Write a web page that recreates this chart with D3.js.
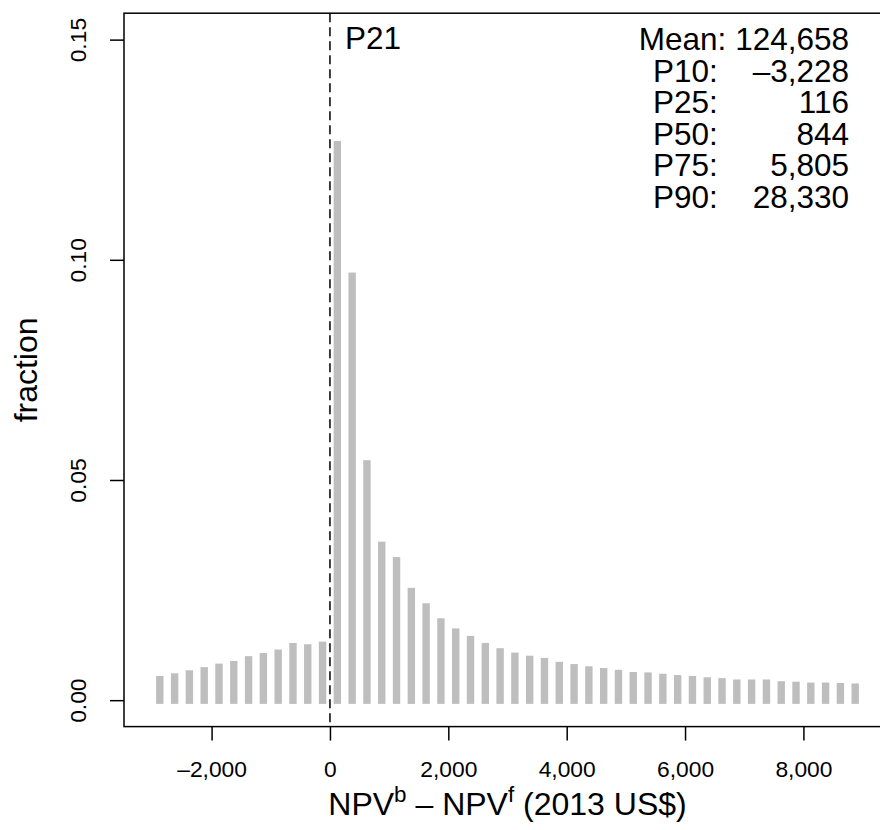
<!DOCTYPE html>
<html>
<head>
<meta charset="utf-8">
<script src="https://cdn.jsdelivr.net/npm/d3@7"></script>
<style>
  body { margin: 0; background: #fff; }
  svg text { font-family: "Liberation Sans", Arial, Helvetica, sans-serif; fill: #000; }
</style>
</head>
<body>
<div id="vis"></div>
<script>
// histogram bins (250 wide) from -3000 to 9000
const binWidth = 250;
const binStarts = d3.range(-3000, 9000, binWidth);

// fraction per bin
const fractions = [
  0.0055, 0.0061, 0.0068, 0.0075, 0.0083, 0.0089, 0.0100, 0.0107, 0.0115, 0.0130, 0.0127, 0.0133,
  0.1270, 0.0971, 0.0545, 0.0360, 0.0325, 0.0255, 0.0220, 0.0186, 0.0163, 0.0146, 0.0130, 0.0118,
  0.0108, 0.0101, 0.0096, 0.0087, 0.0082, 0.0077, 0.0073, 0.0069, 0.0064, 0.0063, 0.0060, 0.0057,
  0.0055, 0.0052, 0.0050, 0.0047, 0.0047, 0.0047, 0.0043, 0.0042, 0.0040, 0.0040, 0.0039, 0.0038
];

const xTicks = [-2000, 0, 2000, 4000, 6000, 8000];
const yTicks = [0, 0.05, 0.10, 0.15];

const statLabels = ["P10:", "P25:", "P50:", "P75:", "P90:"];
const statValues = [-3228, 116, 844, 5805, 28330];
const meanValue = 124658;
const tagLabel = "P21";

const width = 880;
const height = 830;
const plot = { left: 124, right: 891, top: 13.2, bottom: 726.6 };

// R style axis extension of 4%
const xlim = [-3000, 9000];
const ylim = [0, 0.15];
const xPad = (xlim[1] - xlim[0]) * 0.04;
const yPad = (ylim[1] - ylim[0]) * 0.04;

const x = d3.scaleLinear()
  .domain([xlim[0] - xPad, xlim[1] + xPad])
  .range([plot.left, plot.right]);
const y = d3.scaleLinear()
  .domain([ylim[0] - yPad, ylim[1] + yPad])
  .range([plot.bottom, plot.top]);

// numbers with commas and a real minus sign
const fmt = v => (v < 0 ? "\u2013" : "") + d3.format(",")(Math.abs(v));

const svg = d3.select("#vis")
  .append("svg")
  .attr("width", width)
  .attr("height", height);

// bars: drawn like thick lines with square ends
const barW = x(binWidth / 2) - x(0);
const cap = barW / 2;
svg.append("g")
  .selectAll("rect")
  .data(binStarts.map((s, i) => ({ mid: s + binWidth / 2, v: fractions[i] })))
  .enter()
  .append("rect")
  .attr("x", d => x(d.mid) - barW / 2)
  .attr("y", d => y(d.v))
  .attr("width", barW)
  .attr("height", d => y(0) - y(d.v) + cap)
  .attr("fill", "#bebebe");

// vertical dashed reference line at zero
svg.append("line")
  .attr("x1", x(0)).attr("x2", x(0))
  .attr("y1", plot.top).attr("y2", plot.bottom)
  .attr("stroke", "#000")
  .attr("stroke-width", 1.5)
  .attr("stroke-dasharray", "9,5");

// box
svg.append("rect")
  .attr("x", plot.left)
  .attr("y", plot.top)
  .attr("width", plot.right - plot.left)
  .attr("height", plot.bottom - plot.top)
  .attr("fill", "none")
  .attr("stroke", "#000")
  .attr("stroke-width", 1.5);

// x axis
const xAxis = svg.append("g")
  .attr("transform", `translate(0,${plot.bottom})`)
  .call(d3.axisBottom(x).tickValues(xTicks).tickSize(14).tickPadding(0).tickFormat(fmt));
xAxis.select(".domain").remove();
xAxis.selectAll("line").attr("stroke-width", 1.5);
xAxis.selectAll("text")
  .attr("y", 50)
  .attr("dy", null)
  .style("font-size", "22.8px");

// y axis
const yAxis = svg.append("g")
  .attr("transform", `translate(${plot.left},0)`)
  .call(d3.axisLeft(y).tickValues(yTicks).tickSize(14).tickFormat(d3.format(".2f")));
yAxis.select(".domain").remove();
yAxis.selectAll("line").attr("stroke-width", 1.5);
yAxis.selectAll("text")
  .attr("x", null)
  .attr("dy", null)
  .attr("text-anchor", "middle")
  .attr("transform", "translate(-38,0) rotate(-90)")
  .style("font-size", "22.8px");

// axis titles
const xTitle = svg.append("text")
  .attr("x", (plot.left + plot.right) / 2)
  .attr("y", 815)
  .attr("text-anchor", "middle")
  .style("font-size", "32px");
xTitle.append("tspan").text("NPV");
xTitle.append("tspan").attr("dy", -13).style("font-size", "22.4px").text("b");
xTitle.append("tspan").attr("dy", 13).text(" \u2013 NPV");
xTitle.append("tspan").attr("dy", -13).style("font-size", "22.4px").text("f");
xTitle.append("tspan").attr("dy", 13).text(" (2013 US$)");

svg.append("text")
  .attr("transform", `translate(36.7,${(plot.top + plot.bottom) / 2}) rotate(-90)`)
  .attr("text-anchor", "middle")
  .style("font-size", "32px")
  .text("fraction");

const panelFont = "31.5px";
function panelText(px, py, str, anchor) {
  return svg.append("text")
    .attr("x", px)
    .attr("y", py)
    .attr("text-anchor", anchor || "start")
    .style("font-size", panelFont)
    .text(str);
}

// label next to the dashed line
panelText(x(0) + 15, 49, tagLabel);

// summary stats, top right
const statRight = 849;
const rowH = 31.6;
const firstRow = 50;
panelText(statRight, firstRow, "Mean: " + fmt(meanValue), "end");

statLabels.forEach((lab, i) => {
  const yy = firstRow + rowH * (i + 1);
  panelText(653, yy, lab);
  panelText(statRight, yy, fmt(statValues[i]), "end");
});
</script>
</body>
</html>
